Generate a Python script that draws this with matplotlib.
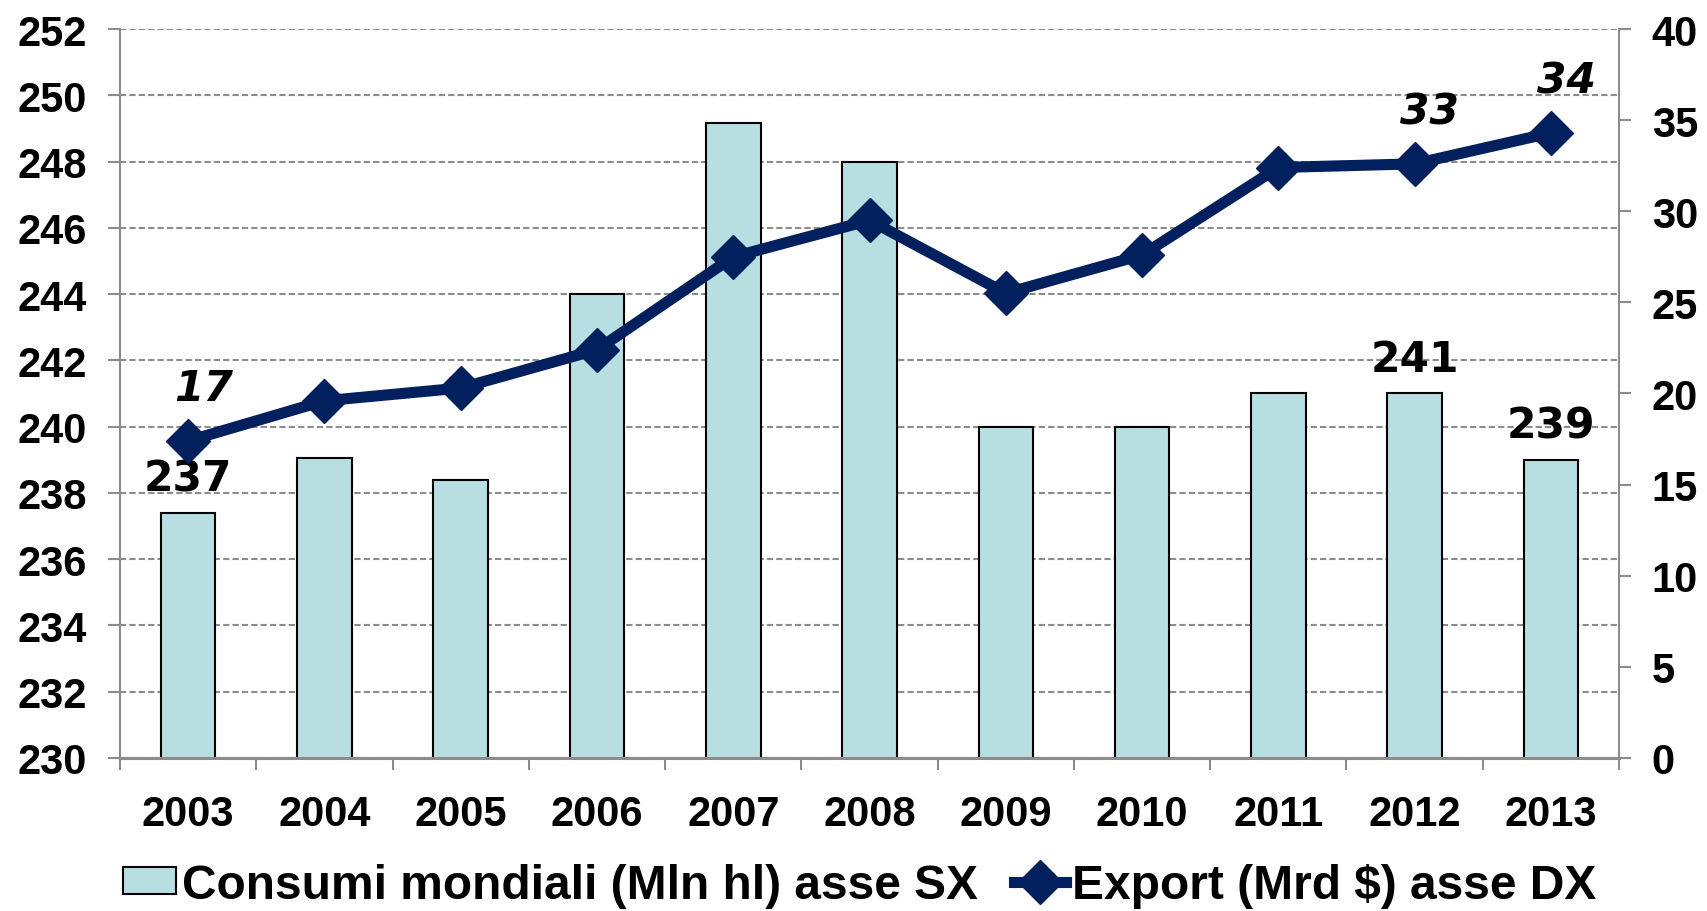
import matplotlib
matplotlib.use('Agg')
import matplotlib.pyplot as plt
from matplotlib.lines import Line2D
from matplotlib.patches import Patch
import numpy as np

years = ['2003', '2004', '2005', '2006', '2007', '2008', '2009', '2010', '2011', '2012', '2013']
consumi = [237.4, 239.05, 238.4, 244.0, 249.15, 248.0, 240.0, 240.0, 241.0, 241.0, 239.0]
export = [17.4, 19.6, 20.3, 22.4, 27.5, 29.5, 25.5, 27.6, 32.4, 32.6, 34.3]
bar_label_idx = [0, 9, 10]
line_label_idx = [0, 9, 10]
left_ticks = list(range(230, 253, 2))
right_ticks = list(range(0, 41, 5))
legend_labels = ['Consumi mondiali (Mln hl) asse SX', 'Export (Mrd $) asse DX']

BAR_COLOR = '#B7DFE2'
NAVY = '#03205E'
GRID = '#8c8c8c'
TICKFONT = 'Liberation Sans'

fig = plt.figure(figsize=(17.08, 9.12), dpi=100)
ax = fig.add_axes([0.0703, 0.1678, 0.8776, 0.7993])
x = np.arange(len(years))

ax.bar(x, consumi, width=0.40, color=BAR_COLOR, edgecolor='black', linewidth=1.5, zorder=2)
ax.set_ylim(230, 252)
ax.set_xlim(-0.5, len(years) - 0.5)
ax.set_yticks(left_ticks)
ax.yaxis.grid(True, linestyle=(0, (3, 1.5)), color=GRID, linewidth=1.5)
ax.set_axisbelow(True)

ax.set_xticks(x)
ax.set_xticklabels(years)
ax.set_xticks(np.arange(-0.5, len(years), 1), minor=True)
ax.tick_params(axis='x', which='major', length=0, pad=26, labelsize=30)
ax.tick_params(axis='x', which='minor', length=8.6, width=1.5, color=GRID)
ax.tick_params(axis='y', which='major', length=8.6, width=1.5, color=GRID, pad=15, labelsize=30)

for sp in ['top', 'right']:
    ax.spines[sp].set_visible(False)
for sp in ['left', 'bottom']:
    ax.spines[sp].set_color(GRID)
    ax.spines[sp].set_linewidth(1.5)
ax.spines['bottom'].set_linewidth(2.2)

for i in bar_label_idx:
    ax.annotate(f'{round(consumi[i])}', (x[i], consumi[i]), xytext=(0, 25), textcoords='offset points',
                ha='center', va='center', fontsize=30.5, fontweight='bold', family='DejaVu Sans', zorder=5)

ax2 = ax.twinx()
ax2.set_ylim(0, 40)
ax2.set_yticks(right_ticks)
ax2.plot(x, export, color=NAVY, linewidth=8, marker='D', markersize=22, zorder=3)
ax2.tick_params(axis='y', which='major', length=8.6, width=1.5, color=GRID, pad=15, labelsize=30)
for sp in ['top', 'left', 'bottom']:
    ax2.spines[sp].set_visible(False)
ax2.spines['right'].set_color(GRID)
ax2.spines['right'].set_linewidth(1.5)

for i in line_label_idx:
    ax2.annotate(f'{round(export[i])}', (x[i], export[i]), xytext=(11, 38), textcoords='offset points',
                 ha='center', va='center', fontsize=30.5, fontweight='bold', fontstyle='italic',
                 family='DejaVu Sans', zorder=5)

for a in (ax, ax2):
    for lab in a.get_xticklabels() + a.get_yticklabels():
        lab.set_fontfamily(TICKFONT)
        lab.set_fontweight('bold')

handles = [Patch(facecolor=BAR_COLOR, edgecolor='black', linewidth=1.5),
           Line2D([], [], color=NAVY, linewidth=8, marker='D', markersize=22)]
fig.legend(handles, legend_labels, loc='center', bbox_to_anchor=(0.5035, 0.0285), ncol=2, frameon=False,
           prop=dict(family=TICKFONT, weight='bold', size=34.5), handlelength=1.1, handleheight=0.5,
           handletextpad=0.12, columnspacing=0.75)

fig.savefig('out.png', dpi=100)
